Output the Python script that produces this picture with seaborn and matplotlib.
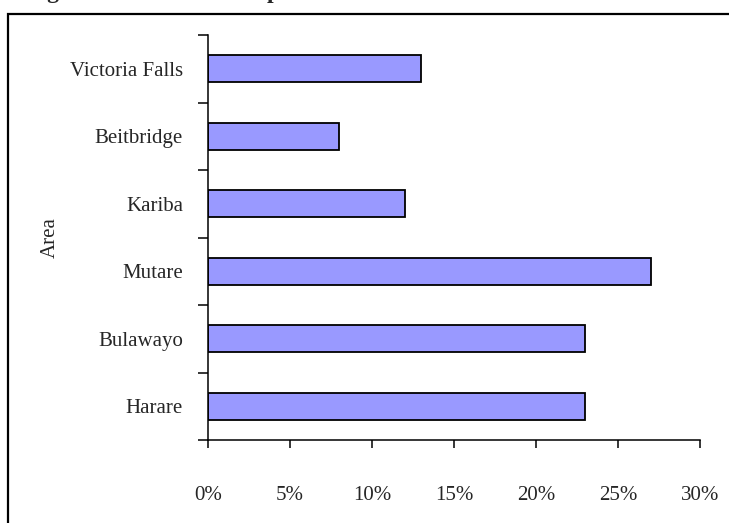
import pandas as pd
import matplotlib
matplotlib.use('Agg')
import matplotlib.pyplot as plt
import matplotlib.ticker as mticker
from matplotlib.patches import Rectangle
import seaborn as sns

# data
areas = ['Victoria Falls', 'Beitbridge', 'Kariba', 'Mutare', 'Bulawayo', 'Harare']
shares = [13, 8, 12, 27, 23, 23]
x_ticks = [0, 5, 10, 15, 20, 25, 30]

df = pd.DataFrame({'Area': areas, 'Share': shares})

sns.set_style('white')
plt.rcParams['font.family'] = ['Liberation Serif', 'DejaVu Serif']

fig = plt.figure(figsize=(7.29, 5.23), dpi=100)
ax = fig.add_axes([208 / 729, 1 - 440 / 523, (700 - 208) / 729, (440 - 35) / 523])

sns.barplot(data=df, x='Share', y='Area', order=areas, orient='h',
            color='#9999FF', saturation=1, width=0.4,
            edgecolor='black', linewidth=1.3, ax=ax)

ax.set_xlim(0, 30)
ax.set_ylim(5.5, -0.5)
ax.set_xticks(x_ticks)
ax.xaxis.set_major_formatter(mticker.FuncFormatter(lambda v, p: f'{v:.0f}%'))
ax.tick_params(axis='x', bottom=True, direction='out', length=6, width=1.1,
               color='black', pad=27, labelsize=15)
ax.tick_params(axis='y', which='major', length=0, pad=18, labelsize=15)
ax.set_yticks([i - 0.5 for i in range(len(areas) + 1)], minor=True)
ax.tick_params(axis='y', which='minor', left=True, direction='out', length=7,
               width=1.1, color='black')

for side in ['top', 'right']:
    ax.spines[side].set_visible(False)
for side in ['left', 'bottom']:
    ax.spines[side].set_color('black')
    ax.spines[side].set_linewidth(1.1)

ax.set_xlabel('')
ax.set_ylabel('Area', fontsize=15, labelpad=7)

# outer chart frame, cut by the image edge
fig.patches.append(Rectangle((8 / 729, -0.05), 1.0, 1.05 - 14.5 / 523,
                             transform=fig.transFigure, fill=False,
                             edgecolor='black', linewidth=1.6))

# caption, mostly above the image edge as in the reference
fig.text(26 / 729, 1 + 2 / 523, 'Figure 1: Market share per area', fontsize=17,
         fontweight='bold', va='baseline', ha='left')

fig.savefig('out.png', dpi=100)
